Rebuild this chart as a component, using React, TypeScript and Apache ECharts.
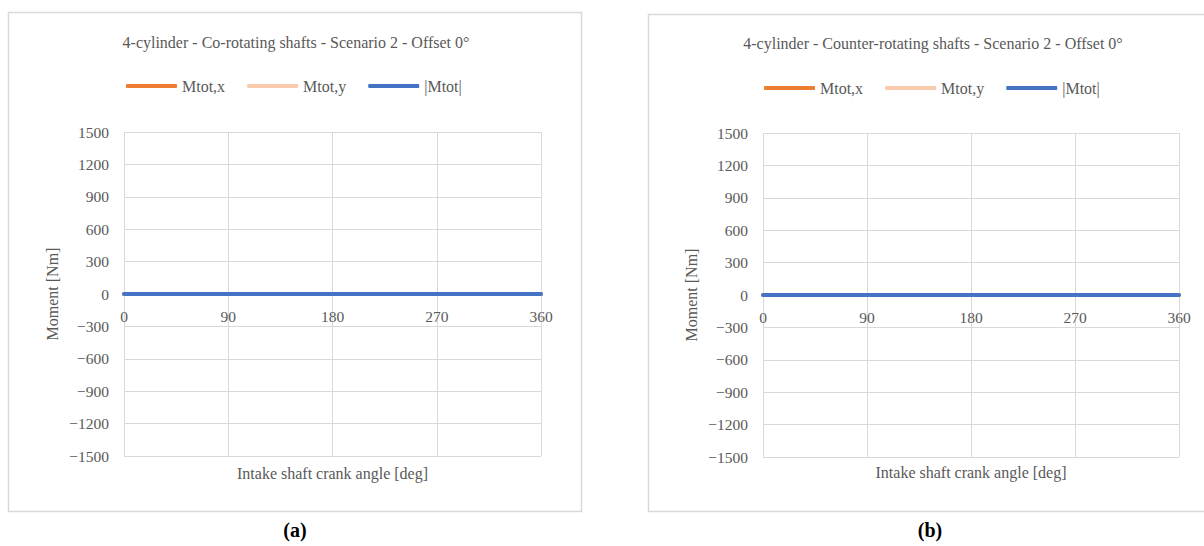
import React, { useEffect, useRef } from "react";
import * as echarts from "echarts";

// Intake shaft crank angle samples [deg]
const crankAngle = [0, 45, 90, 135, 180, 225, 270, 315, 360];

// Co-rotating shafts, scenario 2, offset 0° — moments [Nm]
const coMx = [0, 0, 0, 0, 0, 0, 0, 0, 0];
const coMy = [0, 0, 0, 0, 0, 0, 0, 0, 0];
const coMabs = [0, 0, 0, 0, 0, 0, 0, 0, 0];

// Counter-rotating shafts, scenario 2, offset 0° — moments [Nm]
const ctMx = [0, 0, 0, 0, 0, 0, 0, 0, 0];
const ctMy = [0, 0, 0, 0, 0, 0, 0, 0, 0];
const ctMabs = [0, 0, 0, 0, 0, 0, 0, 0, 0];

const seriesNames = ["Mtot,x", "Mtot,y", "|Mtot|"];
const seriesColors = ["#ED7D31", "#F8CBAD", "#4472C4"];

const panelTitles = [
  "4-cylinder - Co-rotating shafts - Scenario 2 - Offset 0°",
  "4-cylinder - Counter-rotating shafts - Scenario 2 - Offset 0°",
];
const panelLabels = ["(a)", "(b)"];
const xAxisTitle = "Intake shaft crank angle [deg]";
const yAxisTitle = "Moment [Nm]";

const FONT = '"Liberation Serif", "DejaVu Serif", serif';
const TEXT = "#595959";
const GRID = "#d9d9d9";

const zip = (xs: number[], ys: number[]) => xs.map((x, i) => [x, ys[i]]);

export default function App() {
  const ref = useRef<HTMLDivElement>(null);

  useEffect(() => {
    if (!ref.current) return;
    const chart = echarts.init(ref.current, null, { renderer: "svg" });

    const grids = [
      { left: 124, top: 132, width: 417, height: 324 },
      { left: 763, top: 133, width: 416, height: 324 },
    ];

    // the angle axis crosses the moment axis at 0, half way up the plot
    const xAxes = grids.map((g, i) => ({
      type: "value",
      gridIndex: i,
      position: "bottom",
      offset: -g.height / 2,
      min: 0,
      max: 360,
      interval: 90,
      axisLine: { show: false, onZero: false },
      axisTick: { show: false },
      axisLabel: { color: TEXT, fontFamily: FONT, fontSize: 15.5, margin: 14 },
      splitLine: { show: true, lineStyle: { color: GRID, width: 1 } },
    }));

    const yAxes = grids.map((_, i) => ({
      type: "value",
      gridIndex: i,
      min: -1500,
      max: 1500,
      interval: 300,
      axisLine: { show: false },
      axisTick: { show: false },
      axisLabel: {
        color: TEXT,
        fontFamily: FONT,
        fontSize: 15.5,
        margin: 15,
        formatter: (v: number) => (v < 0 ? "\u2212" + Math.abs(v) : String(v)),
      },
      splitLine: { show: true, lineStyle: { color: GRID, width: 1 } },
    }));

    const panelData = [
      [coMx, coMy, coMabs],
      [ctMx, ctMy, ctMabs],
    ];

    const series: any[] = [];
    panelData.forEach((set, p) => {
      set.forEach((vals, k) => {
        series.push({
          type: "line",
          name: seriesNames[k],
          xAxisIndex: p,
          yAxisIndex: p,
          data: zip(crankAngle, vals),
          showSymbol: false,
          symbol: "none",
          lineStyle: { color: seriesColors[k], width: 4, cap: "round" },
          itemStyle: { color: seriesColors[k] },
          z: 2 + k,
        });
      });
    });

    const legends = [121, 759].map((left, i) => ({
      left,
      top: 73 + i * 2,
      orient: "horizontal",
      icon: "roundRect",
      itemWidth: 51,
      itemHeight: 4,
      itemGap: 22,
      selectedMode: false,
      data: seriesNames,
      textStyle: { color: TEXT, fontFamily: FONT, fontSize: 16 },
    }));

    const boxes = [
      { x: 8.5, y: 12.5, w: 573, h: 499 },
      { x: 648.5, y: 14.5, w: 570, h: 497 },
    ];

    const graphics: any[] = [];
    boxes.forEach((b) => {
      graphics.push({
        type: "rect",
        shape: { x: b.x, y: b.y, width: b.w, height: b.h },
        style: { fill: "none", stroke: GRID, lineWidth: 1.5 },
        silent: true,
        z: 0,
      });
    });

    const titleCenters = [
      { x: 296, y: 42 },
      { x: 933, y: 43 },
    ];
    titleCenters.forEach((c, i) => {
      graphics.push({
        type: "text",
        x: c.x,
        y: c.y,
        style: {
          text: panelTitles[i],
          fill: TEXT,
          font: `16px ${FONT}`,
          align: "center",
          verticalAlign: "middle",
        },
      });
    });

    grids.forEach((g, i) => {
      // x-axis title below the plot area
      graphics.push({
        type: "text",
        x: g.left + g.width / 2,
        y: 473 - i,
        style: {
          text: xAxisTitle,
          fill: TEXT,
          font: `16px ${FONT}`,
          align: "center",
          verticalAlign: "middle",
        },
      });
      // rotated y-axis title
      graphics.push({
        type: "text",
        x: i === 0 ? 52 : 691,
        y: g.top + g.height / 2,
        rotation: Math.PI / 2,
        style: {
          text: yAxisTitle,
          fill: TEXT,
          font: `16px ${FONT}`,
          align: "center",
          verticalAlign: "middle",
        },
      });
    });

    [295, 930].forEach((x, i) => {
      graphics.push({
        type: "text",
        x,
        y: 530,
        style: {
          text: panelLabels[i],
          fill: "#000000",
          font: `bold 20px ${FONT}`,
          align: "center",
          verticalAlign: "middle",
        },
      });
    });

    chart.setOption({
      animation: false,
      backgroundColor: "#ffffff",
      grid: grids,
      xAxis: xAxes,
      yAxis: yAxes,
      legend: legends,
      series,
      graphic: graphics,
    });

    return () => chart.dispose();
  }, []);

  return (
    <div
      ref={ref}
      style={{ position: "fixed", left: 0, top: 0, width: 1204, height: 546 }}
    />
  );
}
